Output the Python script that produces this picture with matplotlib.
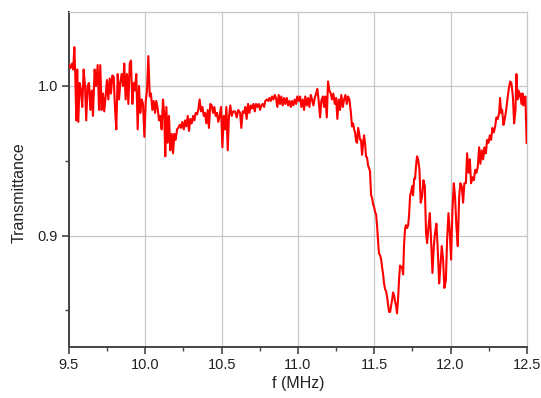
import numpy as np
import matplotlib
matplotlib.use("Agg")
import matplotlib.pyplot as plt
from matplotlib.ticker import MultipleLocator, FormatStrFormatter

plt.rcParams['font.family'] = ['Liberation Sans', 'DejaVu Sans']

# --- DATA ---
# 9.5 - 10.03 MHz
F_A = [9.502, 9.511, 9.520, 9.528, 9.535, 9.541, 9.548, 9.554, 9.561, 9.570,
       9.579, 9.587, 9.596, 9.605, 9.613, 9.622, 9.631, 9.640, 9.649, 9.657,
       9.668, 9.677, 9.688, 9.697, 9.705, 9.714, 9.723, 9.731, 9.740, 9.749,
       9.758, 9.767, 9.775, 9.784, 9.793, 9.801, 9.810, 9.819, 9.828, 9.836,
       9.845, 9.854, 9.862, 9.871, 9.880, 9.889, 9.898, 9.906, 9.915, 9.924,
       9.932, 9.941, 9.950, 9.959, 9.967, 9.976, 9.985, 9.994, 10.003, 10.011,
       10.020, 10.029]
T_A = [1.014, 1.012, 1.015, 1.011, 1.026, 1.008, 0.977, 1.011, 0.976, 1.002,
       0.997, 0.986, 1.011, 1.000, 0.977, 1.000, 1.002, 0.984, 0.997, 0.980,
       1.011, 1.000, 1.014, 0.984, 1.014, 0.984, 0.995, 0.983, 0.993, 1.004,
       0.991, 1.005, 0.995, 1.007, 1.006, 0.986, 0.971, 1.008, 0.991, 1.002,
       1.008, 1.000, 1.015, 0.991, 1.008, 0.988, 1.015, 1.017, 0.988, 1.002,
       0.997, 1.008, 0.971, 1.000, 0.982, 0.991, 0.988, 0.966, 0.990, 0.997,
       1.020, 0.993]

# 10.03 - 10.58 MHz
F_B = [10.037, 10.046, 10.055, 10.064, 10.072, 10.081, 10.090, 10.098, 10.107, 10.116,
       10.124, 10.131, 10.138, 10.147, 10.155, 10.164, 10.173, 10.182, 10.190, 10.199,
       10.208, 10.216, 10.225, 10.234, 10.242, 10.252, 10.260, 10.269, 10.278, 10.286,
       10.295, 10.304, 10.313, 10.321, 10.330, 10.339, 10.347, 10.356, 10.365, 10.374,
       10.383, 10.391, 10.400, 10.409, 10.417, 10.426, 10.435, 10.444, 10.452, 10.461,
       10.470, 10.478, 10.487, 10.496, 10.505, 10.514, 10.522, 10.531, 10.540, 10.548,
       10.557, 10.566, 10.575]
T_B = [0.995, 0.984, 0.990, 0.982, 0.990, 0.985, 0.977, 0.980, 0.971, 0.991,
       0.981, 0.953, 0.986, 0.962, 0.980, 0.957, 0.968, 0.955, 0.968, 0.964,
       0.971, 0.972, 0.974, 0.972, 0.976, 0.971, 0.977, 0.973, 0.980, 0.970,
       0.978, 0.975, 0.980, 0.977, 0.982, 0.981, 0.984, 0.991, 0.983, 0.986,
       0.980, 0.982, 0.975, 0.984, 0.972, 0.988, 0.987, 0.982, 0.986, 0.980,
       0.982, 0.976, 0.980, 0.986, 0.959, 0.980, 0.971, 0.986, 0.957, 0.980,
       0.987, 0.980, 0.983]

# 10.58 - 11.34 MHz
F_C = [10.588, 10.599, 10.609, 10.621, 10.629, 10.638, 10.647, 10.655, 10.664, 10.673,
       10.682, 10.691, 10.699, 10.708, 10.717, 10.725, 10.734, 10.743, 10.752, 10.760,
       10.769, 10.778, 10.786, 10.796, 10.804, 10.813, 10.822, 10.830, 10.839, 10.848,
       10.856, 10.865, 10.874, 10.883, 10.891, 10.900, 10.909, 10.917, 10.927, 10.935,
       10.944, 10.953, 10.961, 10.970, 10.979, 10.988, 10.996, 11.005, 11.014, 11.022,
       11.031, 11.040, 11.048, 11.058, 11.066, 11.075, 11.084, 11.092, 11.101, 11.110,
       11.119, 11.127, 11.136, 11.145, 11.153, 11.163, 11.171, 11.180, 11.189, 11.197,
       11.206, 11.215, 11.223, 11.232, 11.241, 11.250, 11.258, 11.267, 11.276, 11.284,
       11.294, 11.302, 11.311, 11.320, 11.328, 11.337]
T_C = [0.983, 0.979, 0.984, 0.982, 0.972, 0.983, 0.982, 0.986, 0.978, 0.988,
       0.982, 0.987, 0.985, 0.988, 0.983, 0.988, 0.986, 0.988, 0.984, 0.987,
       0.988, 0.986, 0.990, 0.991, 0.990, 0.992, 0.990, 0.993, 0.991, 0.994,
       0.992, 0.986, 0.994, 0.988, 0.993, 0.987, 0.992, 0.988, 0.992, 0.987,
       0.990, 0.986, 0.990, 0.987, 0.991, 0.988, 0.993, 0.990, 0.993, 0.986,
       0.991, 0.984, 0.993, 0.987, 0.992, 0.986, 0.994, 0.991, 0.987, 0.992,
       0.995, 0.998, 0.990, 0.979, 0.990, 0.993, 0.986, 0.993, 0.979, 1.003,
       0.997, 0.995, 0.991, 0.995, 0.988, 0.992, 0.978, 0.991, 0.984, 0.994,
       0.986, 0.991, 0.994, 0.988, 0.993, 0.991]

# 11.34 - 11.79 MHz (first dip)
F_D = [11.346, 11.354, 11.361, 11.368, 11.374, 11.381, 11.387, 11.394, 11.400, 11.407,
       11.413, 11.420, 11.427, 11.433, 11.440, 11.446, 11.453, 11.459, 11.466, 11.472,
       11.479, 11.486, 11.492, 11.499, 11.505, 11.512, 11.518, 11.525, 11.531, 11.538,
       11.545, 11.551, 11.558, 11.564, 11.571, 11.577, 11.584, 11.590, 11.597, 11.604,
       11.610, 11.617, 11.623, 11.630, 11.636, 11.643, 11.649, 11.656, 11.663, 11.669,
       11.676, 11.682, 11.689, 11.695, 11.702, 11.708, 11.715, 11.722, 11.728, 11.735,
       11.741, 11.748, 11.754, 11.761, 11.767, 11.774, 11.780, 11.787]
T_D = [0.983, 0.973, 0.975, 0.971, 0.969, 0.963, 0.962, 0.972, 0.969, 0.964,
       0.964, 0.954, 0.962, 0.967, 0.961, 0.953, 0.952, 0.947, 0.945, 0.943,
       0.927, 0.925, 0.921, 0.919, 0.916, 0.914, 0.907, 0.896, 0.888, 0.887,
       0.884, 0.879, 0.874, 0.868, 0.864, 0.863, 0.859, 0.854, 0.849, 0.849,
       0.853, 0.857, 0.862, 0.860, 0.856, 0.853, 0.848, 0.858, 0.872, 0.880,
       0.879, 0.879, 0.874, 0.894, 0.905, 0.907, 0.905, 0.907, 0.914, 0.927,
       0.929, 0.933, 0.927, 0.938, 0.938, 0.947, 0.953, 0.951]

# 11.79 - 12.18 MHz (second dip)
F_E = [11.796, 11.804, 11.813, 11.822, 11.831, 11.839, 11.846, 11.855, 11.864, 11.872,
       11.881, 11.890, 11.898, 11.907, 11.916, 11.925, 11.933, 11.942, 11.951, 11.959,
       11.969, 11.977, 11.986, 11.995, 12.003, 12.012, 12.021, 12.029, 12.038, 12.047,
       12.056, 12.064, 12.073, 12.082, 12.090, 12.100, 12.108, 12.117, 12.126, 12.134,
       12.143, 12.152, 12.161, 12.169, 12.178]
T_E = [0.944, 0.922, 0.926, 0.937, 0.933, 0.902, 0.895, 0.906, 0.915, 0.897,
       0.875, 0.893, 0.902, 0.908, 0.890, 0.868, 0.879, 0.893, 0.884, 0.865,
       0.870, 0.897, 0.915, 0.902, 0.884, 0.917, 0.935, 0.926, 0.906, 0.893,
       0.926, 0.935, 0.933, 0.922, 0.935, 0.935, 0.955, 0.942, 0.951, 0.935,
       0.939, 0.937, 0.944, 0.942, 0.946]

# 12.18 - 12.5 MHz
F_F = [12.187, 12.195, 12.204, 12.213, 12.222, 12.231, 12.239, 12.248, 12.257, 12.265,
       12.274, 12.283, 12.292, 12.300, 12.309, 12.318, 12.324, 12.331, 12.338, 12.346,
       12.355, 12.364, 12.372, 12.381, 12.390, 12.398, 12.408, 12.416, 12.425, 12.431,
       12.438, 12.444, 12.451, 12.457, 12.464, 12.471, 12.477, 12.484, 12.490, 12.498]
T_F = [0.959, 0.948, 0.957, 0.951, 0.959, 0.955, 0.964, 0.962, 0.967, 0.964,
       0.972, 0.969, 0.973, 0.979, 0.978, 0.982, 0.992, 0.982, 0.984, 0.974,
       0.978, 0.984, 0.991, 0.998, 1.003, 1.002, 0.993, 0.975, 0.984, 1.008,
       0.991, 0.997, 0.993, 0.995, 0.988, 0.995, 0.987, 0.991, 0.993, 0.962]

freq = np.array(F_A + F_B + F_C + F_D + F_E + F_F)
trans = np.array(T_A + T_B + T_C + T_D + T_E + T_F)

# --- FIGURE ---
fig = plt.figure(figsize=(5.41, 3.98), dpi=100, facecolor='white')
ax = fig.add_axes([0.1275, 0.128, 0.8465, 0.842])

ax.plot(freq, trans, color='#ff0000', lw=1.5, zorder=3)

ax.set_xlim(9.5, 12.5)
ax.set_ylim(0.8255, 1.0495)

ax.xaxis.set_major_locator(MultipleLocator(0.5))
ax.xaxis.set_minor_locator(MultipleLocator(0.25))
ax.yaxis.set_major_locator(MultipleLocator(0.1))
ax.yaxis.set_minor_locator(MultipleLocator(0.05))
ax.xaxis.set_major_formatter(FormatStrFormatter('%.1f'))
ax.yaxis.set_major_formatter(FormatStrFormatter('%.1f'))

ax.grid(True, which='major', color='#c8c8c8', lw=0.9, zorder=0)

for side in ('top', 'right'):
    ax.spines[side].set_color('#c8c8c8')
    ax.spines[side].set_linewidth(0.9)
for side in ('left', 'bottom'):
    ax.spines[side].set_color('#444444')
    ax.spines[side].set_linewidth(1.4)

ax.tick_params(which='major', direction='out', length=5, width=1.2,
               color='#444444', labelsize=10.5, labelcolor='#222222', pad=3)
ax.tick_params(which='minor', direction='out', length=3, width=1.0, color='#444444')
ax.tick_params(top=False, right=False, which='both')

ax.set_xlabel('f (MHz)', fontsize=11.5, color='#222222', labelpad=3)
ax.set_ylabel('Transmittance', fontsize=11.5, color='#222222')
ax.yaxis.set_label_coords(-0.093, 0.46)

fig.savefig('out.png', dpi=100)
